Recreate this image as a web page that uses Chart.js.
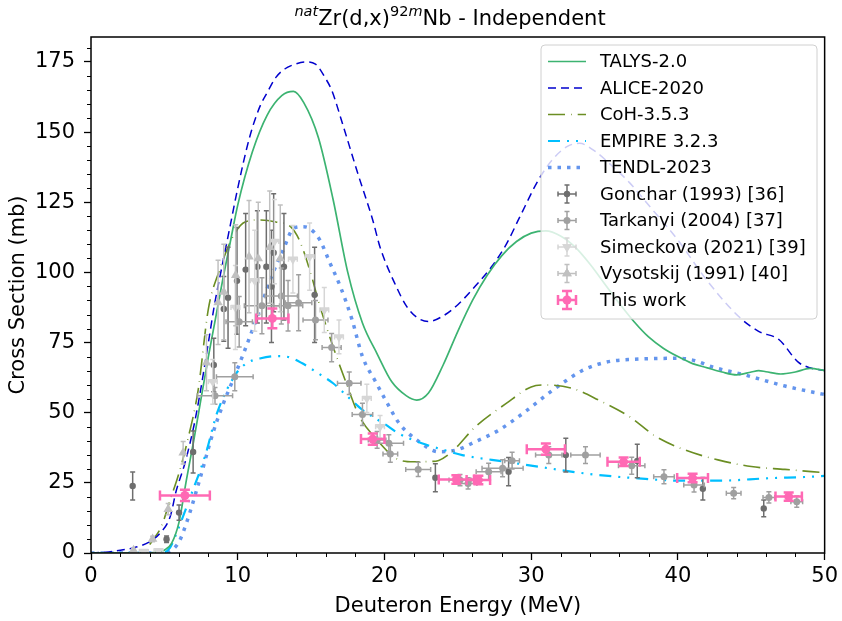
<!DOCTYPE html>
<html>
<head>
<meta charset="utf-8">
<script src="https://cdn.jsdelivr.net/npm/chart.js@4.4.1/dist/chart.umd.min.js"></script>
<style>
    html, body { margin: 0; padding: 0; background: #fff; }
    canvas { display: block; }
</style>
</head>
<body>
<canvas id="xsChart" width="842" height="621"></canvas>
<script>
// axis ticks
const xMajorTicks = [0, 10, 20, 30, 40, 50];
const yMajorTicks = [0, 25, 50, 75, 100, 125, 150, 175];
const xMinorStep  = 2;
const yMinorStep  = 5;

// model curves (energy in MeV, cross section in mb)
const talysE  = [0, 3, 4, 4.5, 5, 5.5, 6, 6.5, 7, 7.5, 8, 8.5, 9, 9.5, 10, 11, 12, 13, 13.8, 14.5, 15.5, 16.5, 17.5, 18.5, 19.5, 20.5, 21.5, 22.2, 23, 24, 25, 26, 27, 28, 29, 30, 31, 32, 33, 34, 35, 36, 37, 38, 39, 40, 41, 42, 43, 44, 45, 45.5, 46, 47, 48, 49, 50];
const talysXS = [0, 0, 0, 0.3, 1, 3.5, 11, 26, 40, 55, 70, 84, 98, 111, 124, 143, 156, 163, 164.5, 160.5, 148, 126, 100, 82, 71, 61, 56, 54.5, 57, 67, 79, 90, 99, 106, 111, 114, 114.8, 113, 109, 103, 96, 89, 82.5, 77, 73, 70, 67.5, 66, 64.5, 63.5, 64.5, 65, 64.6, 63.8, 64.5, 65.8, 65];

const aliceE  = [0, 1, 2, 3, 4, 4.7, 5.4, 5.8, 6.4, 7, 7.4, 8, 8.4, 9, 9.5, 10, 10.8, 11.5, 12, 12.6, 13.2, 13.8, 14.6, 15.3, 16, 16.4, 17.2, 18.2, 19.2, 19.7, 20.8, 21.5, 22.2, 23, 24, 25, 26, 27.3, 28.3, 29.2, 30.5, 31.5, 32.5, 33.3, 34.4, 35.5, 36.7, 38, 40, 42, 44.2, 45.5, 46.9, 48.2, 49, 50];
const aliceXS = [0, 0.3, 1, 2, 4, 7, 13, 22, 32, 45, 56, 75, 88, 104, 117, 130, 148, 159, 164, 169.5, 172.5, 174, 175, 174.2, 169, 165, 152, 135, 118.7, 109, 95, 88, 84, 82.5, 84.5, 88.5, 94, 102, 110, 119.5, 133, 140.5, 145, 146, 143, 138, 132, 124, 111.5, 97, 84, 79, 76, 68, 66, 65];

const cohE  = [4, 4.2, 4.8, 5.4, 6, 6.6, 7.3, 8, 8.7, 9.7, 10.5, 11.5, 12.6, 13.6, 14.2, 14.9, 15.6, 16.5, 17.4, 18.3, 19.4, 20.8, 22, 23, 23.7, 24.6, 26.2, 28.3, 30, 31, 32.8, 34.6, 36.7, 38.5, 40.5, 42.8, 45, 47.3, 50];
const cohXS = [3, 4.5, 9.5, 19, 28.5, 40.5, 58, 87, 100, 113, 118, 118.7, 118, 116.3, 111.5, 101, 88, 73.5, 60.5, 48.6, 40.9, 33.7, 32.5, 32.6, 33, 36.1, 45, 53.3, 59.2, 59.9, 58.7, 54.5, 48.6, 41.5, 36.7, 33.1, 30.8, 29.8, 28.6];

const empireE  = [0, 5, 5.4, 5.9, 6.7, 7.8, 8.6, 9.9, 10.6, 11.5, 12.6, 13.5, 14.4, 15.5, 16.5, 17.5, 18.5, 20, 21, 22.6, 24, 25.3, 28.3, 31.2, 33.9, 37.3, 40.1, 43, 46, 49.1, 50];
const empireXS = [0, 0.3, 2, 8, 19, 35, 50, 64, 67.6, 69.3, 70.2, 69.8, 67.6, 64, 60.5, 55.7, 51, 46, 42.5, 39, 36.8, 34.9, 32.5, 30.2, 28.2, 26.6, 25.8, 25.8, 26.6, 27.2, 27.5];

const tendlE  = [0, 5, 5.5, 6, 6.5, 7.4, 8.3, 9, 9.7, 10.4, 11.5, 12.3, 13.1, 13.8, 14.4, 14.9, 15.6, 16.3, 17, 17.8, 18.5, 19.4, 20.2, 21, 22.2, 23.7, 24.9, 26.2, 27.8, 29.6, 31.2, 32.4, 33.4, 34.4, 35.5, 36.9, 38.5, 40.1, 41.2, 42.3, 44.6, 47.3, 49.6, 50];
const tendlXS = [0, 0, 1, 4, 10.6, 26, 42.6, 53, 62, 71.2, 86.6, 98.5, 108, 115.7, 116.3, 115.7, 111.5, 103.2, 94.9, 83, 70, 61, 53.3, 46.2, 40.3, 36.1, 36.7, 39.7, 43.8, 50.4, 57, 61.5, 64.8, 67, 68.4, 69, 69.3, 69.4, 68.5, 66.4, 63.4, 59.5, 56.9, 56.5];

// experimental data
const goncharE     = [2.84, 5.15, 6.0, 6.96, 8.37, 9.05, 9.34, 9.95, 10.54, 11.34, 11.95, 12.3, 12.45, 13.15, 15.24, 23.47, 28.46, 32.36, 37.23, 41.7, 45.85];
const goncharXS    = [23.9, 4.9, 14.4, 36, 67, 87, 91, 97, 101, 102, 102, 95, 107, 102, 92, 26.8, 29, 34.9, 32.8, 22.9, 15.9];
const goncharErrXS = [5, 1.2, 2.7, 7.5, 9.5, 11.5, 18, 19, 20, 20, 20, 20, 21, 19, 17, 5, 5, 6, 6, 4, 3];

const tarkanyiE     = [8.45, 9.8, 10.1, 11.65, 12.97, 13.43, 14.15, 15.3, 16.4, 17.6, 18.5, 19.5, 20.3, 20.4, 22.3, 25.15, 25.7, 27.1, 28.05, 28.7, 31.2, 33.7, 36.85, 39.05, 41.1, 43.8, 46.2, 48.1];
const tarkanyiXS    = [56, 62.8, 82.4, 88.1, 91.6, 88.1, 89.2, 83, 73.2, 60.5, 49.4, 40.3, 39.1, 35.3, 29.8, 26, 24.8, 29, 30.2, 32.9, 34.9, 34.9, 31.1, 27.2, 24.2, 21.3, 19.8, 18.3];
const tarkanyiErrE  = [1.2, 1.25, 0.9, 1.2, 1.1, 1.0, 0.9, 0.85, 0.65, 0.8, 0.7, 0.6, 1.0, 0.5, 0.85, 0.75, 0.6, 0.85, 1.4, 0.5, 0.9, 1.0, 0.9, 0.7, 0.7, 0.5, 0.4, 0.4];
const tarkanyiErrXS = [3, 5, 9, 10, 10, 9, 10, 7, 5, 4, 4, 3, 3, 3, 2.5, 2, 2, 3, 3, 3, 3, 3, 3, 2.5, 2.5, 2, 2, 2];

const simeckovaE     = [3.6, 4.6, 8.3, 9.84, 11.16, 12.5, 13.76, 14.9, 15.9, 16.9, 18.8, 19.7];
const simeckovaXS    = [0.5, 0.8, 61, 87.5, 97, 111, 104.7, 105.6, 86.6, 77, 55.1, 45];
const simeckovaErrE  = [0.3, 0.3, 0.3, 0.3, 0.3, 0.3, 0.3, 0.3, 0.3, 0.3, 0.3, 0.3];
const simeckovaErrXS = [0.5, 0.5, 8, 15, 18, 15, 12, 12, 8, 6, 5, 4];

const vysotskijE     = [2.9, 4.2, 5.26, 6.28, 7.87, 8.66, 9.05, 9.86, 10.77, 11.4, 12.18, 12.9];
const vysotskijXS    = [1, 5, 15.6, 35.7, 67.8, 89.3, 93, 99, 105.6, 105, 109, 105];
const vysotskijErrXS = [0.5, 1, 2, 4, 10, 15, 17, 18, 20, 20, 20, 19];

const thisWorkE     = [6.4, 12.36, 19.2, 24.9, 26.4, 31.0, 36.3, 41.0, 47.55];
const thisWorkXS    = [20.5, 83.6, 40.6, 26.2, 26, 37, 32.5, 26.7, 20.1];
const thisWorkErrE  = [1.7, 1.1, 0.8, 1.2, 0.8, 1.3, 1.1, 1.05, 0.9];
const thisWorkErrXS = [2, 3.5, 2, 1.5, 1.5, 2, 1.5, 1.5, 1.5];

const chartTitle = ['nat', 'Zr(d,x)', '92', 'm', 'Nb - Independent'];
const xLabel = 'Deuteron Energy (MeV)';
const yLabel = 'Cross Section (mb)';

const FONT = '"DejaVu Sans", sans-serif';

function toPoints(xs, ys) {
    return xs.map((x, i) => ({ x: x, y: ys[i] }));
}

function curve(label, xs, ys, color, width, dash) {
    return {
        label                 : label,
        data                  : toPoints(xs, ys),
        showLine              : true,
        borderColor           : color,
        backgroundColor       : color,
        borderWidth           : width,
        borderDash            : dash,
        pointRadius           : 0,
        cubicInterpolationMode: 'monotone',
        order                 : 10,
        kind                  : 'line'
    };
}

function measured(label, xs, ys, errX, errY, color, style, radius, rotation, errWidth, capHalf, order) {
    return {
        label          : label,
        data           : toPoints(xs, ys),
        showLine       : false,
        pointStyle     : style,
        pointRadius    : radius,
        pointRotation  : rotation,
        backgroundColor: color,
        borderColor    : color,
        borderWidth    : 0,
        errX           : errX,
        errY           : errY,
        errColor       : color,
        errWidth       : errWidth,
        capHalf        : capHalf,
        order          : order,
        kind           : 'points'
    };
}

const datasets = [
    curve('TALYS-2.0', talysE, talysXS, '#3cb371', 1.7, []),
    curve('ALICE-2020', aliceE, aliceXS, '#0000cd', 1.5, [8, 5]),
    curve('CoH-3.5.3', cohE, cohXS, '#6b8e23', 1.6, [17, 6, 0.7, 6]),
    curve('EMPIRE 3.2.3', empireE, empireXS, '#00bfff', 2.2, [12, 7, 2, 7, 2, 7]),
    curve('TENDL-2023', tendlE, tendlXS, '#6495ed', 3.5, [3.5, 6]),
    measured('Gonchar (1993) [36]', goncharE, goncharXS, null, goncharErrXS, '#6e6e6e', 'circle', 3.2, 0, 1.5, 2.5, 5),
    measured('Tarkanyi (2004) [37]', tarkanyiE, tarkanyiXS, tarkanyiErrE, tarkanyiErrXS, '#a0a0a0', 'circle', 3.5, 0, 1.5, 2.5, 4),
    measured('Simeckova (2021) [39]', simeckovaE, simeckovaXS, simeckovaErrE, simeckovaErrXS, '#d6d6d6', 'triangle', 5.5, 180, 1.5, 2.5, 3),
    measured('Vysotskij (1991) [40]', vysotskijE, vysotskijXS, null, vysotskijErrXS, '#c0c0c0', 'triangle', 5.5, 0, 1.5, 2.5, 2),
    measured('This work', thisWorkE, thisWorkXS, thisWorkErrE, thisWorkErrXS, '#ff69b4', 'circle', 4.5, 0, 2.5, 5, 0)
];

const errorBarPlugin = {
    id: 'errorBars',
    beforeDatasetDraw(chart, args) {
        const ds = chart.data.datasets[args.index];
        if (ds.kind !== 'points') return;
        const xs   = chart.scales.x;
        const ys   = chart.scales.y;
        const ctx  = chart.ctx;
        const area = chart.chartArea;
        const cap  = ds.capHalf;
        ctx.save();
        ctx.beginPath();
        ctx.rect(area.left, area.top, area.right - area.left, area.bottom - area.top);
        ctx.clip();
        ctx.strokeStyle = ds.errColor;
        ctx.lineWidth   = ds.errWidth;
        ctx.setLineDash([]);
        ds.data.forEach((p, i) => {
            const px = xs.getPixelForValue(p.x);
            const py = ys.getPixelForValue(p.y);
            ctx.beginPath();
            if (ds.errY && ds.errY[i]) {
                const y1 = ys.getPixelForValue(p.y - ds.errY[i]);
                const y2 = ys.getPixelForValue(p.y + ds.errY[i]);
                ctx.moveTo(px, y1); ctx.lineTo(px, y2);
                ctx.moveTo(px - cap, y1); ctx.lineTo(px + cap, y1);
                ctx.moveTo(px - cap, y2); ctx.lineTo(px + cap, y2);
            }
            if (ds.errX && ds.errX[i]) {
                const x1 = xs.getPixelForValue(p.x - ds.errX[i]);
                const x2 = xs.getPixelForValue(p.x + ds.errX[i]);
                ctx.moveTo(x1, py); ctx.lineTo(x2, py);
                ctx.moveTo(x1, py - cap); ctx.lineTo(x1, py + cap);
                ctx.moveTo(x2, py - cap); ctx.lineTo(x2, py + cap);
            }
            ctx.stroke();
        });
        ctx.restore();
    }
};

function drawMarker(ctx, ds, x, y) {
    ctx.save();
    ctx.fillStyle = ds.backgroundColor;
    const r = ds.pointRadius;
    if (ds.pointStyle === 'triangle') {
        Chart.helpers.drawPoint(ctx, { pointStyle: 'triangle', radius: r, rotation: ds.pointRotation, borderWidth: 0 }, x, y);
        ctx.fill();
    } else {
        ctx.beginPath();
        ctx.arc(x, y, r, 0, Math.PI * 2);
        ctx.fill();
    }
    ctx.restore();
}

const decorPlugin = {
    id: 'decor',
    afterDatasetsDraw(chart) {
        const ctx = chart.ctx;
        // legend
        const bx = 541, by = 45, bw = 276, bh = 274;
        ctx.save();
        ctx.beginPath();
        ctx.roundRect(bx, by, bw, bh, 4);
        ctx.fillStyle = 'rgba(255,255,255,0.8)';
        ctx.fill();
        ctx.strokeStyle = '#d0d0d0';
        ctx.lineWidth = 1;
        ctx.stroke();
        ctx.font = '18px ' + FONT;
        ctx.textBaseline = 'middle';
        chart.data.datasets.forEach((ds, i) => {
            const ry = 61.5 + i * 26.5;
            if (ds.kind === 'line') {
                ctx.strokeStyle = ds.borderColor;
                ctx.lineWidth = ds.borderWidth;
                ctx.setLineDash(ds.borderDash);
                ctx.beginPath();
                ctx.moveTo(548, ry);
                ctx.lineTo(586, ry);
                ctx.stroke();
                ctx.setLineDash([]);
            } else {
                const cx = 567;
                const cap = ds.capHalf;
                ctx.strokeStyle = ds.errColor;
                ctx.lineWidth = ds.errWidth;
                ctx.beginPath();
                ctx.moveTo(cx, ry - 9); ctx.lineTo(cx, ry + 9);
                ctx.moveTo(cx - cap, ry - 9); ctx.lineTo(cx + cap, ry - 9);
                ctx.moveTo(cx - cap, ry + 9); ctx.lineTo(cx + cap, ry + 9);
                ctx.moveTo(cx - 9, ry); ctx.lineTo(cx + 9, ry);
                ctx.moveTo(cx - 9, ry - cap); ctx.lineTo(cx - 9, ry + cap);
                ctx.moveTo(cx + 9, ry - cap); ctx.lineTo(cx + 9, ry + cap);
                ctx.stroke();
                drawMarker(ctx, ds, cx, ry);
            }
            ctx.fillStyle = '#000';
            ctx.fillText(ds.label, 600, ry + 1);
        });
        ctx.restore();
    },
    afterDraw(chart) {
        const ctx  = chart.ctx;
        const area = chart.chartArea;
        const xs   = chart.scales.x;
        const ys   = chart.scales.y;
        ctx.save();
        // frame
        ctx.strokeStyle = '#000';
        ctx.lineWidth = 1.5;
        ctx.strokeRect(area.left, area.top, area.right - area.left, area.bottom - area.top);
        // minor ticks
        ctx.lineWidth = 1;
        ctx.beginPath();
        for (let v = xs.min; v <= xs.max; v += xMinorStep) {
            if (xMajorTicks.includes(v)) continue;
            const px = Math.round(xs.getPixelForValue(v)) + 0.5;
            ctx.moveTo(px, area.bottom);
            ctx.lineTo(px, area.bottom + 4);
        }
        for (let v = 0; v <= ys.max; v += yMinorStep) {
            if (yMajorTicks.includes(v)) continue;
            const py = Math.round(ys.getPixelForValue(v)) + 0.5;
            ctx.moveTo(area.left, py);
            ctx.lineTo(area.left - 4, py);
        }
        ctx.stroke();

        // title
        const big = '21px ' + FONT, small = '14.5px ' + FONT;
        const smallIt = 'italic 14.5px ' + FONT;
        const parts = [
            { t: chartTitle[0], f: smallIt, dy: -9 },
            { t: chartTitle[1], f: big, dy: 0 },
            { t: chartTitle[2], f: small, dy: -9 },
            { t: chartTitle[3], f: smallIt, dy: -9 },
            { t: chartTitle[4], f: big, dy: 0 }
        ];
        let total = 0;
        parts.forEach(p => { ctx.font = p.f; p.w = ctx.measureText(p.t).width; total += p.w; });
        let tx = 450 - total / 2;
        ctx.fillStyle = '#000';
        ctx.textBaseline = 'alphabetic';
        parts.forEach(p => { ctx.font = p.f; ctx.fillText(p.t, tx, 25 + p.dy); tx += p.w; });

        // axis labels
        ctx.font = '21px ' + FONT;
        ctx.textAlign = 'center';
        ctx.fillText(xLabel, (area.left + area.right) / 2, 612);
        ctx.translate(24, (area.top + area.bottom) / 2);
        ctx.rotate(-Math.PI / 2);
        ctx.fillText(yLabel, 0, 0);
        ctx.restore();
    }
};

new Chart(document.getElementById('xsChart'), {
    type: 'scatter',
    data: { datasets: datasets },
    options: {
        responsive      : false,
        animation       : false,
        devicePixelRatio: 1,
        layout          : { padding: { left: 0, right: 16, top: 37, bottom: 0 } },
        plugins         : { legend: { display: false }, tooltip: { enabled: false }, title: { display: false } },
        scales          : {
            x: {
                type           : 'linear',
                min            : 0,
                max            : 50,
                afterBuildTicks: s => { s.ticks = xMajorTicks.map(v => ({ value: v })); },
                afterFit       : s => { s.height = 68; },
                grid           : { display: true, drawOnChartArea: false, drawTicks: true, tickLength: 7, tickWidth: 1.3, tickColor: '#000' },
                border         : { display: false },
                ticks          : { font: { family: FONT, size: 21 }, color: '#000', padding: 4, maxRotation: 0, autoSkip: false }
            },
            y: {
                type           : 'linear',
                min            : 0,
                max            : 183.9,
                afterBuildTicks: s => { s.ticks = yMajorTicks.map(v => ({ value: v })); },
                afterFit       : s => { s.width = 91; },
                grid           : { display: true, drawOnChartArea: false, drawTicks: true, tickLength: 7, tickWidth: 1.3, tickColor: '#000' },
                border         : { display: false },
                ticks          : { font: { family: FONT, size: 21 }, color: '#000', padding: 9, autoSkip: false }
            }
        }
    },
    plugins: [errorBarPlugin, decorPlugin]
});
</script>
</body>
</html>
